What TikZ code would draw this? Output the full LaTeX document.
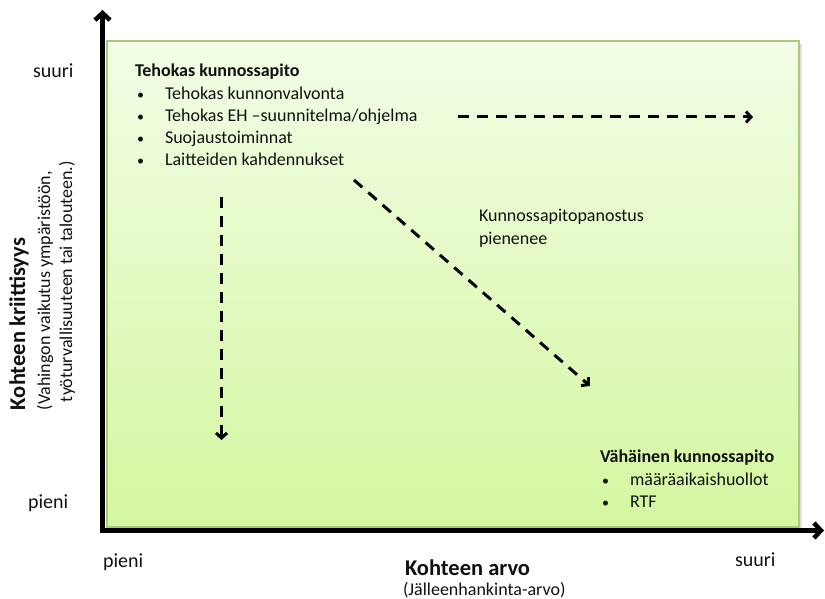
\documentclass[tikz,border=0pt]{standalone}
\usepackage{fontspec}
\setmainfont{Carlito}
\usetikzlibrary{arrows.meta}
\definecolor{panelTop}{HTML}{F3FDE6}
\definecolor{panelBottom}{HTML}{D4F7A0}
\definecolor{panelEdge}{HTML}{A9CB7C}
\definecolor{ink}{HTML}{111111}
\begin{document}
\begin{tikzpicture}[x=1pt,y=-1pt,
  every node/.style={inner sep=0pt, outer sep=0pt, text=ink},
  body/.style={anchor=base west, font=\fontsize{18}{22}\selectfont},
  bulletmark/.style={anchor=base west, font=\fontsize{14}{22}\selectfont},
  head/.style={anchor=base west, font=\fontsize{18}{22}\selectfont\bfseries},
  scalelabel/.style={anchor=base west, font=\fontsize{20}{24}\selectfont},
  axistitle/.style={anchor=base west, font=\fontsize{22.5}{26}\selectfont\bfseries},
  axisline/.style={line width=4.5pt, line join=miter,
    {Straight Barb[length=7pt,width=15pt]}-{Straight Barb[length=7pt,width=15pt]}},
  dasharrow/.style={line width=3pt, dash pattern=on 11pt off 8pt,
    -{Straight Barb[length=5pt,width=11pt]}},
]
\useasboundingbox (0,0) rectangle (825,599);

% shaded panel with a soft drop shadow
\fill[black, opacity=0.12] (110,44) rectangle (802,530);
\draw[panelEdge, line width=1.2pt, top color=panelTop, bottom color=panelBottom]
  (107,41) rectangle (799,527);

% axes
\coordinate (ytop) at (102.5,10);
\coordinate (origin) at (102.5,530.5);
\coordinate (xend) at (824,530.5);
\draw[axisline] (ytop) -- (origin) -- (xend);

% scale labels
\node[scalelabel] (ysuuri) at (33,78) {suuri};
\node[scalelabel] (ypieni) at (28,508) {pieni};
\node[scalelabel] (xpieni) at (103,567) {pieni};
\node[scalelabel] (xsuuri) at (735,566) {suuri};

% axis titles
\node[axistitle] (xtitle) at (405,575) {Kohteen arvo};
\node[body] (xsub) at (403,595) {(Jälleenhankinta-arvo)};
\node[axistitle, rotate=90] (ytitle) at (25,410) {Kohteen kriittisyys};
\node[body, rotate=90] (ysub1) at (50,410) {(Vahingon vaikutus ympäristöön,};
\node[body, rotate=90] (ysub2) at (72,402) {työturvallisuuteen tai talouteen.)};

% high-criticality block
\node[head] (hiHead) at (135,77) {Tehokas kunnossapito};
\foreach \y/\t/\n in {99.5/{Tehokas kunnonvalvonta}/a,
                      121.5/{Tehokas EH –suunnitelma/ohjelma}/b,
                      143.5/{Suojaustoiminnat}/c,
                      165.5/{Laitteiden kahdennukset}/d}{
  \node[bulletmark] (hiDot\n) at (137,\y) {•};
  \node[body] (hiItem\n) at (165,\y) {\t};
}

% low-criticality block
\node[head] (loHead) at (600,462) {Vähäinen kunnossapito};
\node[bulletmark] (loDota) at (602,485) {•};
\node[body] (loItema) at (630,485) {määräaikaishuollot};
\node[bulletmark] (loDotb) at (602,507) {•};
\node[body] (loItemb) at (630,507) {RTF};

% effort note
\node[body] (note1) at (479,222) {Kunnossapitopanostus};
\node[body] (note2) at (479,244) {pienenee};

% dashed trend arrows
\coordinate (hStart) at (458,117);
\coordinate (hEnd) at (753,117);
\coordinate (vStart) at (221.5,197);
\coordinate (vEnd) at (221.5,440);
\coordinate (dStart) at (354,180);
\coordinate (dEnd) at (590,386);
\draw[dasharrow] (hStart) -- (hEnd);
\draw[dasharrow] (vStart) -- (vEnd);
\draw[dasharrow] (dStart) -- (dEnd);
\end{tikzpicture}
\end{document}
